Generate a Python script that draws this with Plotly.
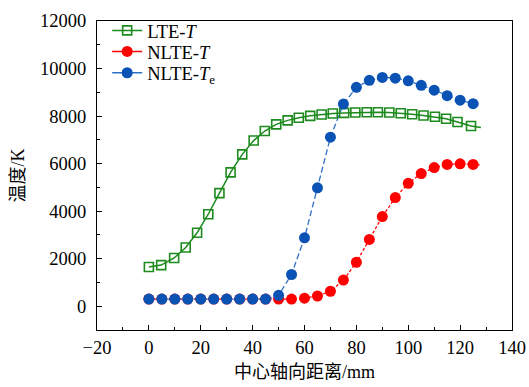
import plotly.graph_objects as go

# LTE-T (green open squares)
lte_x = [0, 4.75, 9.75, 14.2, 18.6, 22.9, 27.2, 31.5, 36.0, 40.4, 44.7, 49.1, 53.5, 57.8,
         62.2, 66.6, 70.9, 75.3, 79.6, 84.0, 88.3, 92.7, 97.1, 101.5, 105.9, 110.3, 114.6,
         119.0, 124.2]
lte_y = [1650, 1730, 2030, 2470, 3090, 3870, 4760, 5630, 6390, 6970, 7370, 7650, 7820, 7930,
         8010, 8066, 8110, 8134, 8148, 8160, 8160, 8148, 8120, 8078, 8025, 7970, 7888,
         7750, 7584]

# NLTE x positions
nlte_x = [0, 5, 10, 15, 20, 25, 30, 35, 40, 45, 50, 55, 60, 65, 70, 75, 80, 85, 90, 95,
          100, 105, 110, 115, 120, 125]
nlte_t = [300, 300, 300, 300, 300, 300, 300, 300, 300, 300, 300, 300, 340, 430, 630, 1100,
          1850, 2810, 3770, 4570, 5170, 5580, 5835, 5965, 5993, 5965]
nlte_te = [300, 300, 300, 300, 300, 300, 300, 300, 300, 300, 460, 1335, 2880, 4980, 7110,
           8504, 9210, 9505, 9628, 9595, 9485, 9293, 9088, 8860, 8670, 8520]

# curve tails beyond last marker
tail_x = 128
lte_tail = 7515
nlte_t_tail = 5940
nlte_te_tail = 8500

series_names = ["LTE-<i>T</i>", "NLTE-<i>T</i>", "NLTE-<i>T</i><sub>e</sub>"]

GREEN = "#1c8a1c"
RED = "#ff0000"
BLUE = "#0a52b4"
BLUE_LINE = "#2f6fc6"

FONT = "Liberation Serif, Noto Sans CJK SC, serif"

fig = go.Figure()

sq = dict(symbol="square-open", size=9, color=GREEN, line=dict(width=1.6, color=GREEN))
rc = dict(symbol="circle", size=11, color=RED)
bc = dict(symbol="circle", size=11, color=BLUE)

fig.add_trace(go.Scatter(
    x=lte_x + [tail_x], y=lte_y + [lte_tail], mode="lines",
    line=dict(color=GREEN, width=1.5), showlegend=False, hoverinfo="skip"))
fig.add_trace(go.Scatter(
    x=nlte_x + [tail_x], y=nlte_t + [nlte_t_tail], mode="lines",
    line=dict(color=RED, width=1.3, dash="3px,2px"), showlegend=False, hoverinfo="skip"))
fig.add_trace(go.Scatter(
    x=nlte_x + [tail_x], y=nlte_te + [nlte_te_tail], mode="lines",
    line=dict(color=BLUE_LINE, width=1.3, dash="6px,3px"), showlegend=False, hoverinfo="skip"))

fig.add_trace(go.Scatter(x=lte_x, y=lte_y, mode="markers", marker=sq, showlegend=False))
fig.add_trace(go.Scatter(x=nlte_x, y=nlte_t, mode="markers", marker=rc, showlegend=False))
fig.add_trace(go.Scatter(x=nlte_x, y=nlte_te, mode="markers", marker=bc, showlegend=False))

# legend entries (solid line samples, as in the reference), one legend per row
legend_ids = ["legend", "legend2", "legend3"]
for name, col, mk, lid in zip(series_names, [GREEN, RED, BLUE_LINE], [sq, rc, bc], legend_ids):
    fig.add_trace(go.Scatter(x=[None], y=[None], mode="lines+markers", name=name,
                             line=dict(color=col, width=1.5), marker=mk, legend=lid))

axis_common = dict(
    showline=True, linecolor="black", linewidth=1.3, mirror=True,
    ticks="inside", ticklen=5, tickwidth=1, tickcolor="black",
    showgrid=False, zeroline=False, automargin=False,
    tickfont=dict(family=FONT, size=18.5, color="black"),
)

fig.update_xaxes(
    range=[-20, 140], tick0=-20, dtick=20,
    minor=dict(ticks="inside", ticklen=3, dtick=10, tick0=-20, tickcolor="black", showgrid=False),
    title=dict(text="中心轴向距离/mm", font=dict(family=FONT, size=18, color="black"), standoff=8),
    ticklabelstandoff=1,
    **axis_common,
)
fig.update_yaxes(
    range=[-1000, 12000], tick0=0, dtick=2000, tickformat="d",
    minor=dict(ticks="inside", ticklen=3, dtick=1000, tick0=0, tickcolor="black", showgrid=False),
    title=dict(text="温度/K", font=dict(family=FONT, size=18, color="black"), standoff=10),
    ticklabelstandoff=6,
    **axis_common,
)

leg_common = dict(x=0.0245, xanchor="left", yanchor="middle",
                  bgcolor="rgba(0,0,0,0)", font=dict(family=FONT, size=18.5), itemwidth=30)
fig.update_layout(
    width=529, height=387,
    margin=dict(l=97, r=17, t=13, b=57),
    plot_bgcolor="white", paper_bgcolor="white",
    font=dict(family=FONT, size=18, color="black"),
    legend=dict(y=0.968, **leg_common),
    legend2=dict(y=0.900, **leg_common),
    legend3=dict(y=0.831, **leg_common),
    showlegend=True,
)

fig.write_html("out.html")
